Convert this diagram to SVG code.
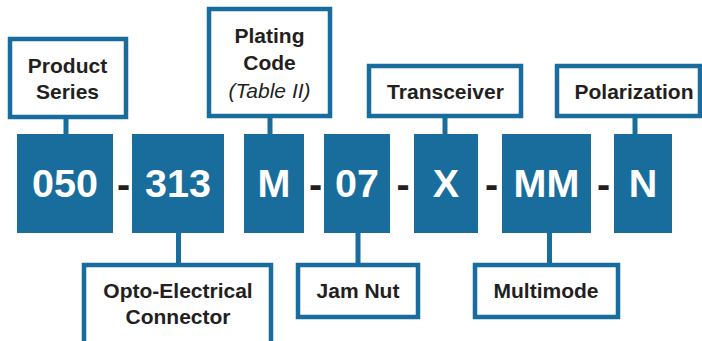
<svg xmlns="http://www.w3.org/2000/svg" width="702" height="341" viewBox="0 0 702 341">
<defs>
<style>
.lbl{fill:#fff;stroke:#186d9c;stroke-width:4.5}
.code{fill:#186d9c}
.wire{stroke:#186d9c;stroke-width:5;fill:none}
.t{font-family:"Liberation Sans",Arial,sans-serif;font-weight:bold;font-size:21px;fill:#231f20;text-anchor:middle}
.ti{font-family:"Liberation Sans",Arial,sans-serif;font-style:italic;font-size:21px;fill:#231f20;text-anchor:middle}
.c{font-family:"Liberation Sans",Arial,sans-serif;font-weight:bold;font-size:39.5px;fill:#fff;text-anchor:middle}
.d{font-family:"Liberation Sans",Arial,sans-serif;font-weight:bold;font-size:39.5px;fill:#231f20;text-anchor:middle}
</style>
</defs>
<rect width="702" height="341" fill="#fff"/>
<g id="connectors">
<line class="wire" x1="66" y1="117" x2="66" y2="135"/>
<line class="wire" x1="270" y1="116" x2="270" y2="135"/>
<line class="wire" x1="445" y1="116" x2="445" y2="135"/>
<line class="wire" x1="635" y1="116" x2="635" y2="135"/>
<line class="wire" x1="178.5" y1="232" x2="178.5" y2="265"/>
<line class="wire" x1="358" y1="232" x2="358" y2="265"/>
<line class="wire" x1="549.5" y1="232" x2="549.5" y2="265"/>
</g>
<g id="product-series">
<rect class="lbl" x="10" y="39" width="116" height="78"/>
<text class="t" x="67.5" y="73">Product</text>
<text class="t" x="67.5" y="99">Series</text>
</g>
<g id="plating-code">
<rect class="lbl" x="209" y="9" width="121" height="107"/>
<text class="t" x="269.5" y="43">Plating</text>
<text class="t" x="269.5" y="70">Code</text>
<text class="ti" x="269.5" y="98">(Table II)</text>
</g>
<g id="transceiver">
<rect class="lbl" x="369" y="66" width="152" height="50"/>
<text class="t" x="445.5" y="99">Transceiver</text>
</g>
<g id="polarization">
<rect class="lbl" x="557" y="66" width="143" height="50"/>
<text class="t" x="634" y="99">Polarization</text>
</g>
<g id="code-050">
<rect class="code" x="17" y="134" width="96" height="99"/>
<text class="c" x="65" y="197">050</text>
</g>
<g id="code-313">
<rect class="code" x="132" y="134" width="92" height="99"/>
<text class="c" x="178" y="197">313</text>
</g>
<g id="code-M">
<rect class="code" x="244" y="134" width="60" height="99"/>
<text class="c" x="274" y="197">M</text>
</g>
<g id="code-07">
<rect class="code" x="324" y="134" width="66" height="99"/>
<text class="c" x="357" y="197">07</text>
</g>
<g id="code-X">
<rect class="code" x="414" y="134" width="64" height="99"/>
<text class="c" x="446" y="197">X</text>
</g>
<g id="code-MM">
<rect class="code" x="502" y="134" width="89" height="99"/>
<text class="c" x="546.5" y="197">MM</text>
</g>
<g id="code-N">
<rect class="code" x="614" y="134" width="58" height="99"/>
<text class="c" x="643" y="197">N</text>
</g>
<g id="dashes">
<text class="d" x="123.5" y="198">-</text>
<text class="d" x="315.5" y="198">-</text>
<text class="d" x="403" y="198">-</text>
<text class="d" x="491.5" y="198">-</text>
<text class="d" x="603.5" y="198">-</text>
</g>
<g id="opto-electrical">
<rect class="lbl" x="84" y="265" width="187" height="100"/>
<text class="t" x="178" y="298">Opto-Electrical</text>
<text class="t" x="178" y="324">Connector</text>
</g>
<g id="jam-nut">
<rect class="lbl" x="298" y="265" width="120" height="52"/>
<text class="t" x="358" y="298">Jam Nut</text>
</g>
<g id="multimode">
<rect class="lbl" x="475" y="265" width="143" height="52"/>
<text class="t" x="546" y="298">Multimode</text>
</g>
</svg>
